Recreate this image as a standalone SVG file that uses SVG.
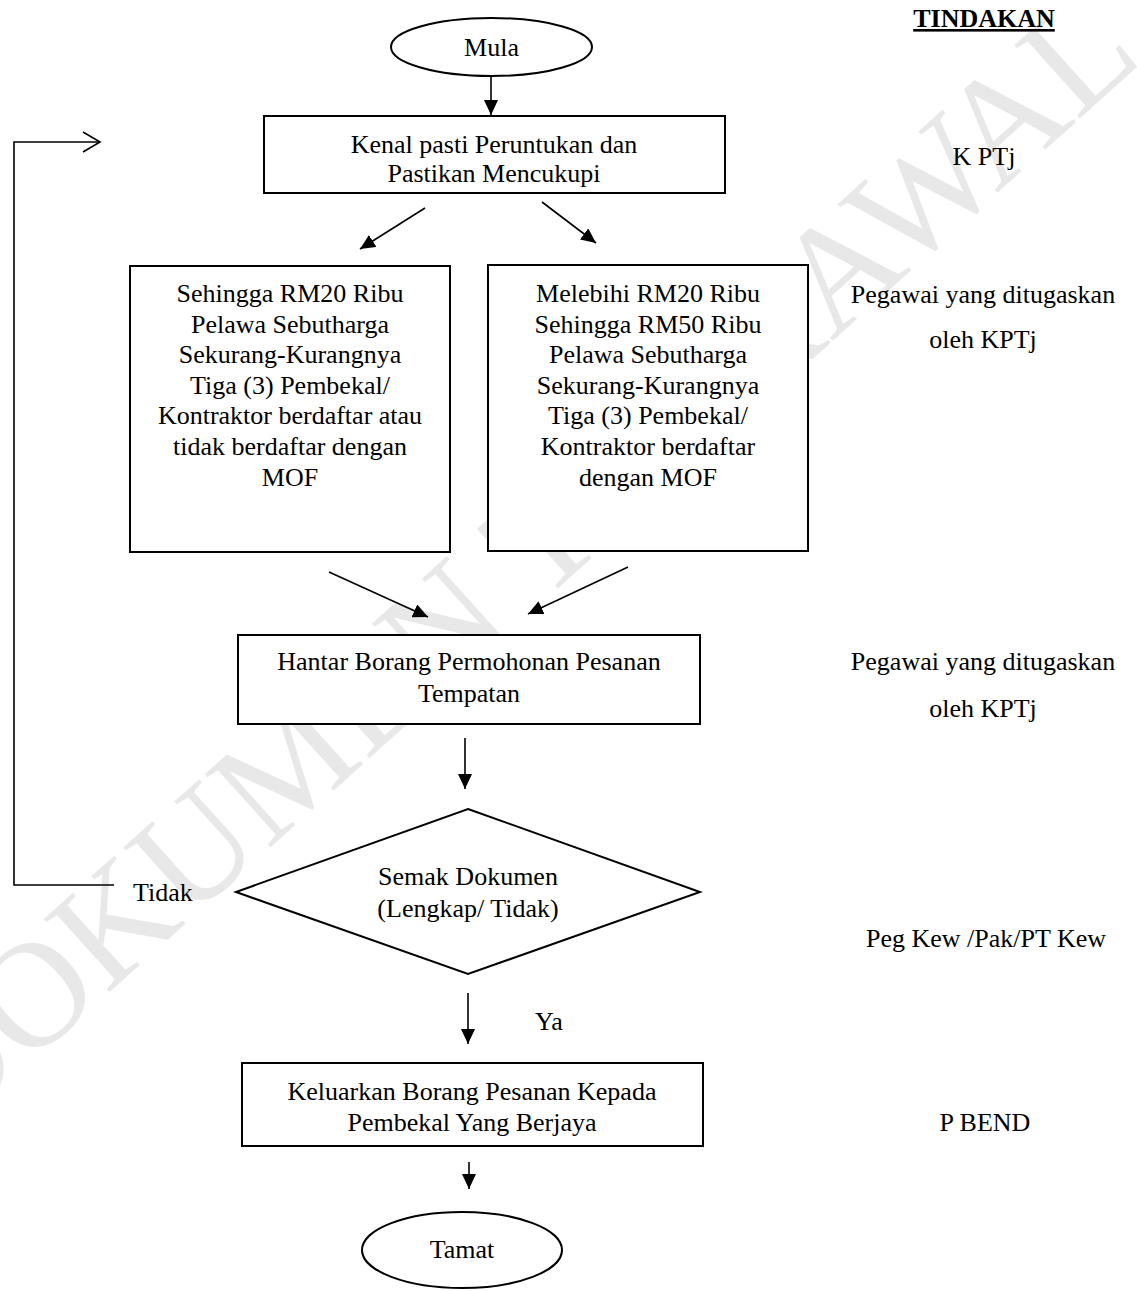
<svg xmlns="http://www.w3.org/2000/svg" width="1137" height="1291" viewBox="0 0 1137 1291">
<defs>
<style>
text{font-family:"Liberation Serif","Times New Roman",serif;font-size:26px;fill:#000}
.c{text-anchor:middle}
.box{fill:#fff;stroke:#000;stroke-width:2}
.ln{fill:none;stroke:#000;stroke-width:1.6}
.wm{font-size:150px;fill:#e8e8e8}
</style>
<marker id="ah" markerUnits="userSpaceOnUse" markerWidth="16" markerHeight="14" refX="15" refY="7" orient="auto">
<path d="M0,0 L15,7 L0,14 Z" fill="#000"/>
</marker>
</defs>
<rect width="1137" height="1291" fill="#fff"/>
<text class="wm c" x="545" y="600" transform="rotate(-42 545 600)">DOKUMEN TERKAWAL</text>

<g id="connectors">
<line class="ln" x1="491" y1="77" x2="491" y2="115" marker-end="url(#ah)"/>
<line class="ln" x1="425" y1="208" x2="360" y2="249" marker-end="url(#ah)"/>
<line class="ln" x1="542" y1="202" x2="596" y2="243" marker-end="url(#ah)"/>
<line class="ln" x1="329" y1="572" x2="428" y2="617" marker-end="url(#ah)"/>
<line class="ln" x1="628" y1="567" x2="528" y2="614" marker-end="url(#ah)"/>
<line class="ln" x1="465" y1="738" x2="465" y2="789" marker-end="url(#ah)"/>
<line class="ln" x1="468" y1="993" x2="468" y2="1044" marker-end="url(#ah)"/>
<line class="ln" x1="469" y1="1162" x2="469" y2="1189" marker-end="url(#ah)"/>
<polyline class="ln" points="114,885 14,885 14,142 100,142"/>
<polyline class="ln" points="83,132 100,142 83,152"/>
<text x="133" y="901">Tidak</text>
<text x="535" y="1030">Ya</text>
</g>

<g id="mula">
<ellipse class="box" cx="491.5" cy="47" rx="100.5" ry="29"/>
<text class="c" x="491.5" y="56">Mula</text>
</g>

<g id="kenal">
<rect class="box" x="264" y="116" width="461" height="77"/>
<text class="c" x="494" y="153">Kenal pasti Peruntukan dan</text>
<text class="c" x="494" y="182">Pastikan Mencukupi</text>
</g>

<g id="rm20">
<rect class="box" x="130" y="266" width="320" height="286"/>
<text class="c" x="290" y="302">Sehingga RM20 Ribu</text>
<text class="c" x="290" y="333">Pelawa Sebutharga</text>
<text class="c" x="290" y="363">Sekurang-Kurangnya</text>
<text class="c" x="290" y="394">Tiga (3) Pembekal/</text>
<text class="c" x="290" y="424">Kontraktor berdaftar atau</text>
<text class="c" x="290" y="455">tidak berdaftar dengan</text>
<text class="c" x="290" y="486">MOF</text>
</g>

<g id="rm50">
<rect class="box" x="488" y="265" width="320" height="286"/>
<text class="c" x="648" y="302">Melebihi RM20 Ribu</text>
<text class="c" x="648" y="333">Sehingga RM50 Ribu</text>
<text class="c" x="648" y="363">Pelawa Sebutharga</text>
<text class="c" x="648" y="394">Sekurang-Kurangnya</text>
<text class="c" x="648" y="424">Tiga (3) Pembekal/</text>
<text class="c" x="648" y="455">Kontraktor berdaftar</text>
<text class="c" x="648" y="486">dengan MOF</text>
</g>

<g id="hantar">
<rect class="box" x="238" y="635" width="462" height="89"/>
<text class="c" x="469" y="670">Hantar Borang Permohonan Pesanan</text>
<text class="c" x="469" y="702">Tempatan</text>
</g>

<g id="semak">
<polygon class="box" points="468,809 700,892 468,974 236,892"/>
<text class="c" x="468" y="885">Semak Dokumen</text>
<text class="c" x="468" y="917">(Lengkap/ Tidak)</text>
</g>

<g id="keluarkan">
<rect class="box" x="242" y="1063" width="461" height="83"/>
<text class="c" x="472" y="1100">Keluarkan Borang Pesanan Kepada</text>
<text class="c" x="472" y="1131">Pembekal Yang Berjaya</text>
</g>

<g id="tamat">
<ellipse class="box" cx="462" cy="1250" rx="100" ry="38"/>
<text class="c" x="462" y="1258">Tamat</text>
</g>

<g id="tindakan">
<text class="c" x="984" y="27" font-weight="bold" text-decoration="underline">TINDAKAN</text>
<text class="c" x="984" y="165">K PTj</text>
<text class="c" x="983" y="303">Pegawai yang ditugaskan</text>
<text class="c" x="983" y="348">oleh KPTj</text>
<text class="c" x="983" y="670">Pegawai yang ditugaskan</text>
<text class="c" x="983" y="717">oleh KPTj</text>
<text class="c" x="986" y="947">Peg Kew /Pak/PT Kew</text>
<text class="c" x="985" y="1131">P BEND</text>
</g>
</svg>
